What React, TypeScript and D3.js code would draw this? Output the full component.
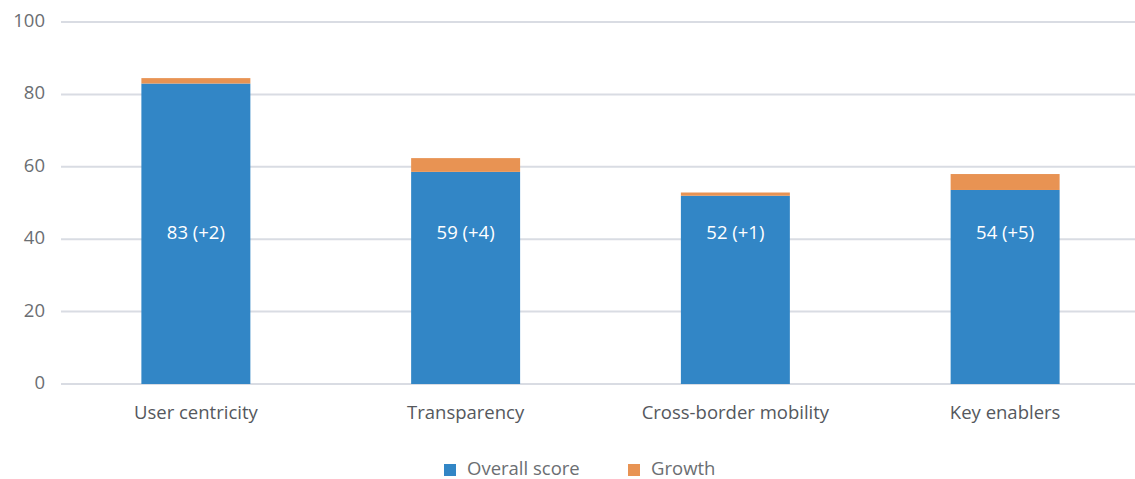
import React from "react";
import * as d3 from "d3";

const categories = ["User centricity", "Transparency", "Cross-border mobility", "Key enablers"];
const overallScore = [83, 58.6, 52, 53.6];
const growth = [1.5, 3.8, 0.9, 4.4];
const barLabels = ["83 (+2)", "59 (+4)", "52 (+1)", "54 (+5)"];
const yTicks = [0, 20, 40, 60, 80, 100];
const legendItems = ["Overall score", "Growth"];

const W = 1135;
const H = 479;
const BLUE = "#3286c6";
const ORANGE = "#e89353";
const FONT = "'Open Sans', 'Noto Sans', sans-serif";

export default function App() {
  const x = d3
    .scaleBand<string>()
    .domain(categories)
    .range([61, 1140])
    .paddingInner(0.596)
    .paddingOuter(0.298);
  const y = d3.scaleLinear().domain([0, 100]).range([384, 22]);
  const colors = [BLUE, ORANGE];

  return (
    <svg
      width={W}
      height={H}
      style={{ position: "absolute", left: 0, top: 0, background: "#fff" }}
      fontFamily={FONT}
    >
      {yTicks.map((t) => (
        <g key={t}>
          <line x1={61} x2={1135} y1={y(t)} y2={y(t)} stroke="#d9dce3" strokeWidth={2} />
          <text
            x={45}
            y={y(t)}
            textAnchor="end"
            dominantBaseline="middle"
            fontSize={18.5}
            fill="#6b6e72"
          >
            {t}
          </text>
        </g>
      ))}
      {categories.map((c, i) => {
        const x0 = x(c)!;
        const bw = x.bandwidth();
        const total = overallScore[i] + growth[i];
        return (
          <g key={c}>
            <rect
              x={x0}
              y={y(overallScore[i])}
              width={bw}
              height={y(0) - y(overallScore[i])}
              fill={BLUE}
            />
            <rect
              x={x0}
              y={y(total)}
              width={bw}
              height={y(overallScore[i]) - y(total)}
              fill={ORANGE}
            />
            <text
              x={x0 + bw / 2}
              y={y(40.1)}
              textAnchor="middle"
              fontSize={18.5}
              fill="#ffffff"
            >
              {barLabels[i]}
            </text>
            <text
              x={x0 + bw / 2}
              y={419}
              textAnchor="middle"
              fontSize={18.5}
              fill="#55585d"
            >
              {c}
            </text>
          </g>
        );
      })}
      {legendItems.map((l, i) => {
        const lx = [444, 628][i];
        return (
          <g key={l}>
            <rect x={lx} y={464} width={12} height={12} fill={colors[i]} />
            <text x={lx + 23} y={475} fontSize={18.5} fill="#6b6e72">
              {l}
            </text>
          </g>
        );
      })}
    </svg>
  );
}
